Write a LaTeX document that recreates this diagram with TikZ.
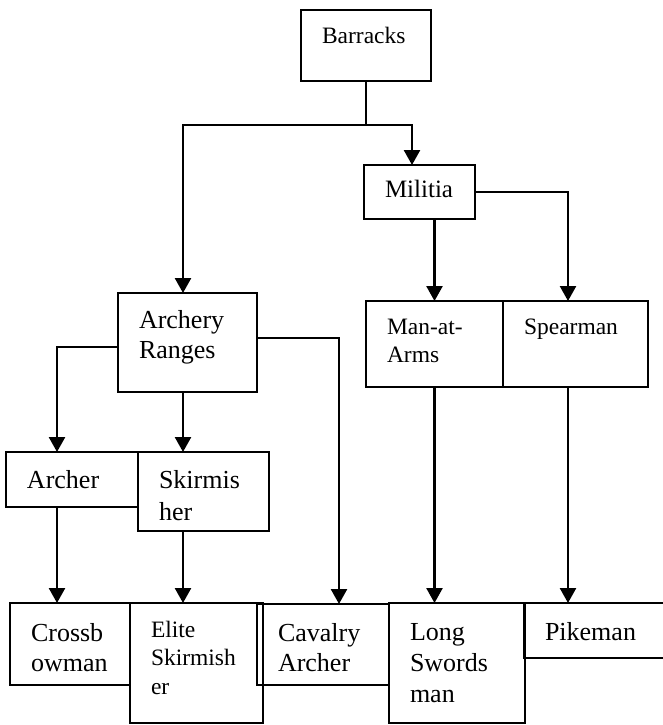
\documentclass[tikz,border=0pt]{standalone}
\usepackage{fontspec}
\setmainfont{Liberation Serif}
\usetikzlibrary{arrows.meta}
\begin{document}
\begin{tikzpicture}[x=1pt,y=-1pt,
  box/.style={draw,line width=1.3pt,anchor=north west,inner xsep=21pt,inner ysep=0pt,
    outer sep=0pt,align=left,font=\fontsize{26}{30}\selectfont},
  small/.style={font=\fontsize{23.5}{28.5}\selectfont},
  link/.style={line width=2.5pt,-{Triangle[width=16pt,length=15pt]}}]
\useasboundingbox (0,0) rectangle (662,725);
% top
\node[box,small,text width=88pt,text height=34pt,text depth=37pt] (brk) at (301,10) {Barracks};
\node[box,text width=69pt,text height=32pt,text depth=22pt,font=\fontsize{25}{30}\selectfont] (mil) at (364,165) {Militia};
% middle row
\node[box,text width=97pt,text height=35pt,text depth=64pt] (arc) at (118,293) {Archery\\Ranges};
\node[box,small,text width=95pt,text height=33pt,text depth=53pt] (maa) at (366,301) {Man-at-\\Arms};
\node[box,small,text width=103pt,text height=33pt,text depth=53pt] (spr) at (503,301) {Spearman};
\node[box,text width=90pt,text height=36pt,text depth=19pt] (ach) at (6,452) {Archer};
\node[box,text width=89pt,text height=36pt,text depth=43pt,font=\fontsize{26}{32}\selectfont] (skr) at (138,452) {Skirmis\\her};
% bottom row
\node[box,text width=78pt,text height=38pt,text depth=44pt] (crs) at (10,603) {Crossb\\owman};
\node[box,small,text width=91pt,text height=34pt,text depth=86pt] (elt) at (130,603) {Elite\\Skirmish\\er};
\node[box,text width=90pt,text height=37pt,text depth=44pt] (cav) at (257,604) {Cavalry\\Archer};
\node[box,text width=94pt,text height=37pt,text depth=83pt,font=\fontsize{26}{31}\selectfont] (lsw) at (389,603) {Long\\Swords\\man};
\node[box,text width=99pt,text height=37pt,text depth=18pt] (pik) at (524,603) {Pikeman};

\draw[link] (brk.south) -- ++(0,44) coordinate (split) -| ([xshift=-4.5pt]arc.north);
\draw[link] (split) -| ([xshift=-7.5pt]mil.north);
\draw[link] (maa.north |- mil.south) -- (maa.north);
\draw[link] (mil.east) -| ([xshift=-7.5pt]spr.north);
\draw[link] ([yshift=-4.5pt]arc.west) -| ([xshift=-15pt]ach.north);
\draw[link] ([xshift=-4.5pt]arc.south) -- ([xshift=-4.5pt]arc.south |- skr.north);
\draw[link] ([yshift=4.5pt]arc.east) -| ([xshift=16pt]cav.north);

\draw[link] ([xshift=-15pt]ach.south) -- ([xshift=-15pt]ach.south |- crs.north);
\draw[link] ([xshift=-20.5pt]skr.south) -- ([xshift=-20.5pt]skr.south |- elt.north);
\draw[link] (maa.south) -- (maa.south |- lsw.north);
\draw[link] ([xshift=-7.5pt]spr.south) -- ([xshift=-7.5pt]spr.south |- pik.north);
\end{tikzpicture}
\end{document}
